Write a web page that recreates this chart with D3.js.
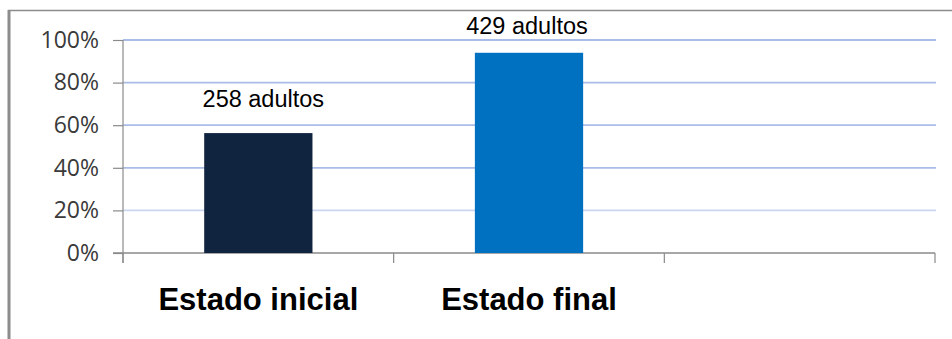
<!DOCTYPE html>
<html>
<head>
<meta charset="utf-8">
<script src="https://cdn.jsdelivr.net/npm/d3@7"></script>
<style>
  html, body { margin: 0; padding: 0; background: #fff; }
  svg { display: block; }
</style>
</head>
<body>
<svg id="chart" width="952" height="339"></svg>
<script>
// Categories along the x axis (the third slot is left empty)
const categories = ["Estado inicial", "Estado final", ""];
// Share of adults in each state
const shares = [0.563, 0.94];
// Text shown above each bar
const barLabels = ["258 adultos", "429 adultos"];
// Y axis ticks
const yTicks = [0, 0.2, 0.4, 0.6, 0.8, 1.0];
const barColors = ["#11243f", "#0070c0"];

const svg = d3.select("#chart");
const W = 952, H = 339;
const plot = { left: 123, right: 935, top: 40, bottom: 253 };

// Frame lines of the chart area
svg.append("line").attr("x1", 8).attr("x2", W).attr("y1", 10.5).attr("y2", 10.5)
  .attr("stroke", "#8c8c8c").attr("stroke-width", 1.5);
svg.append("line").attr("x1", 9).attr("x2", 9).attr("y1", 10).attr("y2", H)
  .attr("stroke", "#8c8c8c").attr("stroke-width", 3);

const y = d3.scaleLinear().domain([0, 1]).range([plot.bottom, plot.top]);
const xCat = d3.scaleBand().domain(categories).range([plot.left, plot.right]).padding(0);
const x = d3.scaleBand().domain(categories).range([plot.left, plot.right])
  .paddingInner(0.6).paddingOuter(0.3);

// Horizontal gridlines (the lowest one is paler)
svg.append("g").selectAll("line").data(yTicks.filter(t => t > 0)).join("line")
  .attr("x1", plot.left).attr("x2", plot.right + 1)
  .attr("y1", d => y(d)).attr("y2", d => y(d))
  .attr("stroke", d => d < 0.3 ? "#c9d7f0" : "#a9bde8").attr("stroke-width", 1.8);

// Y axis
const yAxis = d3.axisLeft(y).tickValues(yTicks).tickFormat(d3.format(".0%"))
  .tickSize(10).tickPadding(14);
const gy = svg.append("g").attr("transform", `translate(${plot.left},0)`).call(yAxis);
gy.select(".domain").remove();
gy.append("line").attr("x1", 0).attr("x2", 0).attr("y1", plot.top).attr("y2", plot.bottom + 10)
  .attr("stroke", "#8a8a8a").attr("stroke-width", 1.2);
gy.selectAll(".tick line").attr("stroke", "#8a8a8a").attr("stroke-width", 1.2);
gy.selectAll(".tick text")
  .attr("font-family", "'Open Sans', sans-serif").attr("font-size", 23)
  .attr("fill", "#3a3a3a");

// X axis line with tick marks between categories
const gx = svg.append("g");
gx.append("line").attr("x1", plot.left - 10).attr("x2", plot.right)
  .attr("y1", plot.bottom).attr("y2", plot.bottom)
  .attr("stroke", "#8a8a8a").attr("stroke-width", 1.5);
const boundaries = categories.map(c => xCat(c)).concat([xCat(categories[categories.length - 1]) + xCat.bandwidth()]);
gx.selectAll("line.tk").data(boundaries).join("line").attr("class", "tk")
  .attr("x1", d => d).attr("x2", d => d)
  .attr("y1", plot.bottom).attr("y2", plot.bottom + 10)
  .attr("stroke", "#8a8a8a").attr("stroke-width", 1.2);
gx.selectAll("text").data(categories.filter(c => c)).join("text")
  .attr("x", d => xCat(d) + xCat.bandwidth() / 2)
  .attr("y", 310)
  .attr("text-anchor", "middle")
  .attr("font-family", "'Liberation Sans', Arial, sans-serif").attr("font-weight", "bold")
  .attr("font-size", 31).attr("fill", "#000")
  .text(d => d);

// Bars
const data = shares.map((v, i) => ({ cat: categories[i], v, label: barLabels[i], color: barColors[i] }));
svg.append("g").selectAll("rect").data(data).join("rect")
  .attr("x", d => x(d.cat)).attr("width", x.bandwidth())
  .attr("y", d => y(d.v)).attr("height", d => y(0) - y(d.v))
  .attr("fill", d => d.color);

// Labels above the bars
const labelGap = [26, 19];
const labelShift = [5, -2];
svg.append("g").selectAll("text").data(data).join("text")
  .attr("x", (d, i) => x(d.cat) + x.bandwidth() / 2 + labelShift[i])
  .attr("y", (d, i) => y(d.v) - labelGap[i])
  .attr("text-anchor", "middle")
  .attr("font-family", "'Liberation Sans', Arial, sans-serif")
  .attr("font-size", 23.5).attr("fill", "#000")
  .text(d => d.label);
</script>
</body>
</html>
